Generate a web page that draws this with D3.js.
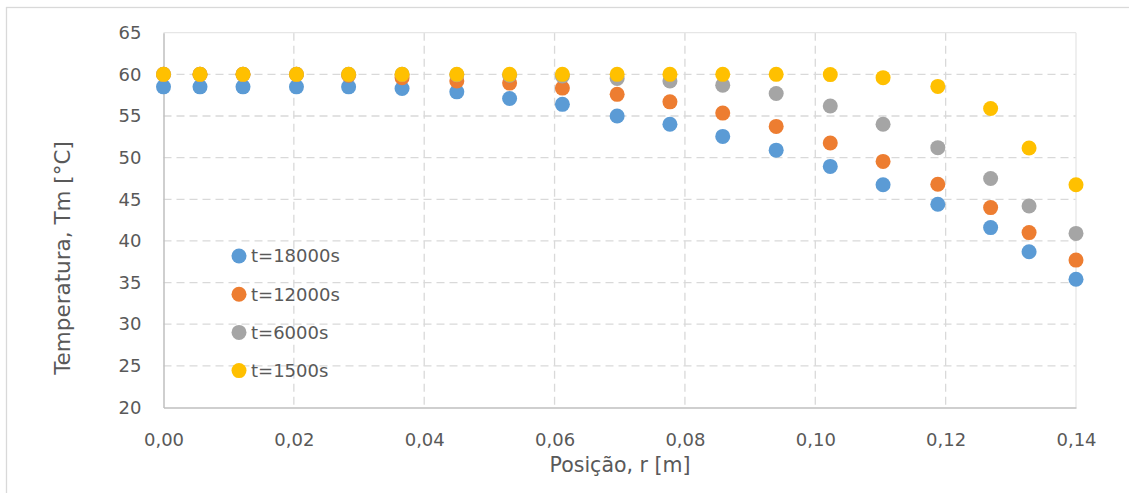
<!DOCTYPE html>
<html>
<head>
<meta charset="utf-8">
<script src="https://cdn.jsdelivr.net/npm/d3@7"></script>
<style>
  html, body { margin: 0; padding: 0; background: #fff; }
  svg { display: block; }
  text { font-family: "DejaVu Sans", sans-serif; fill: #595959; }
</style>
</head>
<body>
<svg id="chart" width="1129" height="493"></svg>
<script>
// Radial positions r [m]
const positions = [0, 0.0056, 0.0122, 0.0204, 0.0284, 0.0366, 0.0450, 0.0531, 0.0612, 0.0696,
                   0.0777, 0.0858, 0.0940, 0.1023, 0.1104, 0.1188, 0.1269, 0.1328, 0.14];

// Mean temperature Tm [°C] at each position for each time
const temp18000 = [58.5, 58.5, 58.5, 58.5, 58.5, 58.3, 57.9, 57.1, 56.4, 55.0,
                   54.0, 52.55, 50.9, 48.95, 46.75, 44.4, 41.6, 38.7, 35.4];
const temp12000 = [60.0, 60.0, 60.0, 60.0, 59.9, 59.6, 59.2, 58.95, 58.35, 57.6,
                   56.7, 55.35, 53.75, 51.75, 49.55, 46.8, 44.0, 41.0, 37.7];
const temp6000  = [60.0, 60.0, 60.0, 60.0, 60.0, 60.0, 59.95, 59.9, 59.8, 59.5,
                   59.2, 58.7, 57.7, 56.2, 54.0, 51.2, 47.5, 44.2, 40.9];
const temp1500  = [60.0, 60.0, 60.0, 60.0, 60.0, 60.0, 60.0, 60.0, 60.0, 60.0,
                   60.0, 60.0, 60.0, 59.97, 59.6, 58.55, 55.9, 51.15, 46.75];

const seriesNames = ["t=18000s", "t=12000s", "t=6000s", "t=1500s"];
const seriesColors = ["#5B9BD5", "#ED7D31", "#A5A5A5", "#FFC000"];
const seriesValues = [temp18000, temp12000, temp6000, temp1500];

const xTicks = [0, 0.02, 0.04, 0.06, 0.08, 0.10, 0.12, 0.14];
const yTicks = [20, 25, 30, 35, 40, 45, 50, 55, 60, 65];

const svg = d3.select("#chart");
const plotLeft = 163.5, plotRight = 1076, plotTop = 32.7, plotBottom = 407.5;

const x = d3.scaleLinear().domain([0, 0.14]).range([plotLeft, plotRight]);
const y = d3.scaleLinear().domain([20, 65]).range([plotBottom, plotTop]);
const fmtX = v => d3.format(".2f")(v).replace(".", ",");

// Outer chart frame
svg.append("rect")
  .attr("x", 6.5).attr("y", 7.5).attr("width", 1140).attr("height", 500)
  .attr("fill", "none").attr("stroke", "#d9d9d9").attr("stroke-width", 1.3);

// Dashed gridlines
const grid = svg.append("g");
grid.selectAll("line.h").data(yTicks.filter(v => v > 20 && v < 65)).join("line")
  .attr("x1", plotLeft).attr("x2", plotRight)
  .attr("y1", d => y(d)).attr("y2", d => y(d))
  .attr("stroke", "#d9d9d9").attr("stroke-width", 1.3).attr("stroke-dasharray", "8,5");
grid.selectAll("line.v").data(xTicks.filter(v => v > 0 && v < 0.14)).join("line")
  .attr("y1", plotTop).attr("y2", plotBottom)
  .attr("x1", d => x(d)).attr("x2", d => x(d))
  .attr("stroke", "#d9d9d9").attr("stroke-width", 1.3).attr("stroke-dasharray", "8,5");

// Plot-area border on top and right
svg.append("line").attr("x1", plotLeft).attr("x2", plotRight).attr("y1", y(65)).attr("y2", y(65))
  .attr("stroke", "#e6e6e6").attr("stroke-width", 1.3);
svg.append("line").attr("x1", x(0.14)).attr("x2", x(0.14)).attr("y1", plotTop).attr("y2", plotBottom)
  .attr("stroke", "#e6e6e6").attr("stroke-width", 1.3);

// Axes
const xAxis = svg.append("g").attr("transform", `translate(0,${plotBottom})`)
  .call(d3.axisBottom(x).tickValues(xTicks).tickFormat(fmtX).tickSize(0).tickPadding(26));
const yAxis = svg.append("g").attr("transform", `translate(${plotLeft},0)`)
  .call(d3.axisLeft(y).tickValues(yTicks).tickFormat(d3.format("d")).tickSize(0).tickPadding(22));
[xAxis, yAxis].forEach(a => {
  a.select(".domain").attr("stroke", "#bfbfbf").attr("stroke-width", 1.5);
  a.selectAll("text").attr("font-size", 18).attr("fill", "#595959")
    .attr("font-family", "DejaVu Sans, sans-serif");
});

// Axis titles
svg.append("text").attr("x", 620).attr("y", 472)
  .attr("text-anchor", "middle").attr("font-size", 20.5).text("Posição, r [m]");
svg.append("text").attr("transform", "translate(70,258) rotate(-90)")
  .attr("text-anchor", "middle").attr("font-size", 21.5).text("Temperatura, Tm [°C]");

// Data points
seriesValues.forEach((vals, i) => {
  svg.append("g").selectAll("circle").data(vals).join("circle")
    .attr("cx", (d, j) => x(positions[j]))
    .attr("cy", d => y(d))
    .attr("r", 7.5)
    .attr("fill", seriesColors[i]);
});

// Legend
const legend = svg.append("g");
seriesNames.forEach((name, i) => {
  const ly = 256 + i * 38.2;
  legend.append("circle").attr("cx", 239).attr("cy", ly).attr("r", 7.5).attr("fill", seriesColors[i]);
  legend.append("text").attr("x", 251).attr("y", ly).attr("dy", "0.35em")
    .attr("font-size", 18).text(name);
});
</script>
</body>
</html>
